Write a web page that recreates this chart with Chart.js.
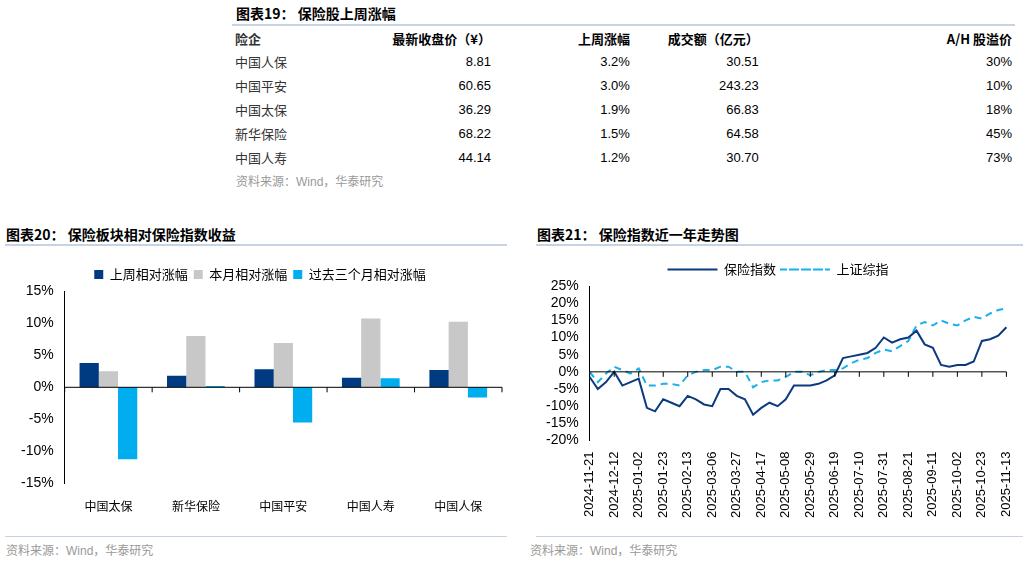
<!DOCTYPE html>
<html><head><meta charset="utf-8">
<script src="https://cdn.jsdelivr.net/npm/chart.js@4"></script>
<style>
body{margin:0;width:1029px;height:561px;background:#fff;font-family:"Liberation Sans","Noto Sans CJK SC",sans-serif;position:relative;overflow:hidden}
.t{position:absolute;font-weight:bold;font-size:14px;color:#000;font-family:"Noto Sans CJK SC"}
.src{position:absolute;font-size:12px;color:#999;font-family:"Liberation Sans","Noto Sans CJK SC"}
.hl{position:absolute;height:2px;background:#c5d3e3}
table{position:absolute;left:232px;top:27px;width:783px;border-collapse:collapse;font-size:13px}
td{height:24px;padding:0 3px;text-align:right}
td:first-child{text-align:left;font-family:"Noto Sans CJK SC";color:#333}
tr.h td{font-weight:bold;font-family:"Noto Sans CJK SC";height:22px}
canvas{position:absolute}
</style></head><body>
<div class="t" style="left:236px;top:3px">图表19： 保险股上周涨幅</div>
<div class="hl" style="left:232px;top:24px;width:783px"></div>
<table id="tb"></table>
<div class="src" style="left:236px;top:172px">资料来源：Wind，华泰研究</div>

<div class="t" style="left:6px;top:224px">图表20： 保险板块相对保险指数收益</div>
<div class="hl" style="left:5px;top:244px;width:502px"></div>
<div class="t" style="left:537px;top:224px">图表21： 保险指数近一年走势图</div>
<div class="hl" style="left:536px;top:244px;width:487px"></div>
<div class="hl" style="left:5px;top:536px;width:502px;height:1px"></div>
<div class="hl" style="left:536px;top:536px;width:487px;height:1px"></div>
<div class="src" style="left:6px;top:541px">资料来源：Wind，华泰研究</div>
<div class="src" style="left:530px;top:541px">资料来源：Wind，华泰研究</div>

<canvas id="c1" style="left:0;top:262px" width="510" height="260"></canvas>
<canvas id="c2" style="left:525px;top:259px" width="500" height="262"></canvas>
<script>
// Table data
const tableHeaders=["险企","最新收盘价（¥）","上周涨幅","成交额（亿元）","A/H 股溢价"];
const tableCompanies=["中国人保","中国平安","中国太保","新华保险","中国人寿"];
const tablePrice=["8.81","60.65","36.29","68.22","44.14"];
const tableWeekChg=["3.2%","3.0%","1.9%","1.5%","1.2%"];
const tableTurnover=["30.51","243.23","66.83","64.58","30.70"];
const tableAH=["30%","10%","18%","45%","73%"];

// Bar chart data
const barCategories=["中国太保","新华保险","中国平安","中国人寿","中国人保"];
const barWeek=[3.8,1.8,2.8,1.5,2.7];
const barMonth=[2.5,8.0,6.9,10.7,10.2];
const bar3M=[-11.2,0.2,-5.5,1.4,-1.6];

// Line chart data (weekly)
const lineDates=["2024-11-21","2024-11-28","2024-12-05","2024-12-12","2024-12-19","2024-12-26","2025-01-02","2025-01-09","2025-01-16","2025-01-23","2025-01-30","2025-02-06","2025-02-13","2025-02-20","2025-02-27","2025-03-06","2025-03-13","2025-03-20","2025-03-27","2025-04-03","2025-04-10","2025-04-17","2025-04-24","2025-05-01","2025-05-08","2025-05-15","2025-05-22","2025-05-29","2025-06-05","2025-06-12","2025-06-19","2025-06-26","2025-07-03","2025-07-10","2025-07-17","2025-07-24","2025-07-31","2025-08-07","2025-08-14","2025-08-21","2025-08-28","2025-09-04","2025-09-11","2025-09-18","2025-09-25","2025-10-02","2025-10-09","2025-10-16","2025-10-23","2025-10-30","2025-11-06","2025-11-13"];
const insIndex=[-1.5,-5,-3,0,-4,-3,-2,-10.5,-11.5,-8,-9,-10,-7,-8,-9.5,-10,-5,-5,-7,-8,-12.5,-10.5,-9,-10,-8,-4,-4,-4,-3.5,-2.5,-1,4,4.5,5,5.5,7,10,8.5,9.5,10,12,8,7,2,1.5,2,2,3,9,9.5,10.5,13];
const shIndex=[0,-3,-0.5,1.5,0.5,-0.5,1,-4,-4,-3.5,-3.5,-4,-1,0,0.5,0.5,1.5,1.5,0,0,-4.5,-3,-2.5,-2.5,-1.5,0,0,-1,0,0.5,0.5,1,2.5,3.5,4,5.5,6.5,6,7.5,9,13.5,14.5,13.5,15,14,13.5,15,16,15.5,17,18,18.5];

const tb=document.getElementById('tb');
let h='<tr class="h">'+tableHeaders.map(x=>'<td>'+x+'</td>').join('')+'</tr>';
for(let i=0;i<tableCompanies.length;i++)h+='<tr><td>'+tableCompanies[i]+'</td><td>'+tablePrice[i]+'</td><td>'+tableWeekChg[i]+'</td><td>'+tableTurnover[i]+'</td><td>'+tableAH[i]+'</td></tr>';
tb.innerHTML=h;
const colW=[150,110,138,127,258];
tb.querySelectorAll('tr.h td').forEach((td,i)=>td.style.width=colW[i]+'px');

const F='"Liberation Sans","Noto Sans CJK SC"';
Chart.defaults.font.family=F;Chart.defaults.color='#000';Chart.defaults.font.size=13;
Chart.defaults.animation=false;

const zeroLine={id:'z',afterDatasetsDraw(c){const {ctx,chartArea:a,scales:{x,y}}=c;const y0=y.getPixelForValue(0);
ctx.save();ctx.strokeStyle='#000';ctx.lineWidth=1;ctx.beginPath();ctx.moveTo(a.left,y0);ctx.lineTo(a.right,y0);
const n=c.data.labels.length;const step=c.options.stepTick||1;
for(let i=0;i<=n;i++){let px;
 if(c.config.type==='bar'){px=a.left+(a.right-a.left)*i/n;}else{if(i%step||i>=n)continue;px=x.getPixelForValue(i);}
 ctx.moveTo(px,y0);ctx.lineTo(px,y0+5);}
ctx.stroke();ctx.restore();}};

new Chart(document.getElementById('c1'),{type:'bar',
data:{labels:barCategories,datasets:[
{label:'上周相对涨幅',data:barWeek,backgroundColor:'#003a80'},
{label:'本月相对涨幅',data:barMonth,backgroundColor:'#c8c8c8'},
{label:'过去三个月相对涨幅',data:bar3M,backgroundColor:'#00aeef'}]},
options:{responsive:false,layout:{padding:{right:8,left:18}},
plugins:{legend:{labels:{boxWidth:9,boxHeight:9,padding:6,font:{family:'"Noto Sans CJK SC"',size:13}}},tooltip:{enabled:false}},
datasets:{bar:{categoryPercentage:0.66,barPercentage:1}},
scales:{y:{min:-15,max:15,ticks:{stepSize:5,autoSkip:false,callback:v=>v+'%',font:{size:14}},grid:{display:false},border:{color:'#000'}},
x:{grid:{display:false},border:{display:false},ticks:{font:{family:'"Noto Sans CJK SC"',size:12},padding:8}}}},
plugins:[zeroLine]});

new Chart(document.getElementById('c2'),{type:'line',
data:{labels:lineDates,datasets:[
{label:'保险指数',data:insIndex,borderColor:'#0b3a7e',borderWidth:2,pointRadius:0,tension:0},
{label:'上证综指',data:shIndex,borderColor:'#1ab0ec',borderWidth:2,borderDash:[7,5],pointRadius:0,tension:0}]},
options:{responsive:false,stepTick:3,layout:{padding:{right:12,left:18}},
plugins:{legend:{labels:{boxWidth:50,boxHeight:0,padding:4,font:{family:'"Noto Sans CJK SC"',size:13}}},tooltip:{enabled:false}},
scales:{y:{min:-20,max:25,ticks:{stepSize:5,autoSkip:false,callback:v=>v+'%',font:{size:14}},grid:{display:false},border:{color:'#000'}},
x:{grid:{display:false},border:{display:false},ticks:{autoSkip:false,maxRotation:90,minRotation:90,font:{size:13},
callback:function(v,i){return i%3===0?lineDates[i]:null}}}}},
plugins:[zeroLine]});
</script></body></html>
